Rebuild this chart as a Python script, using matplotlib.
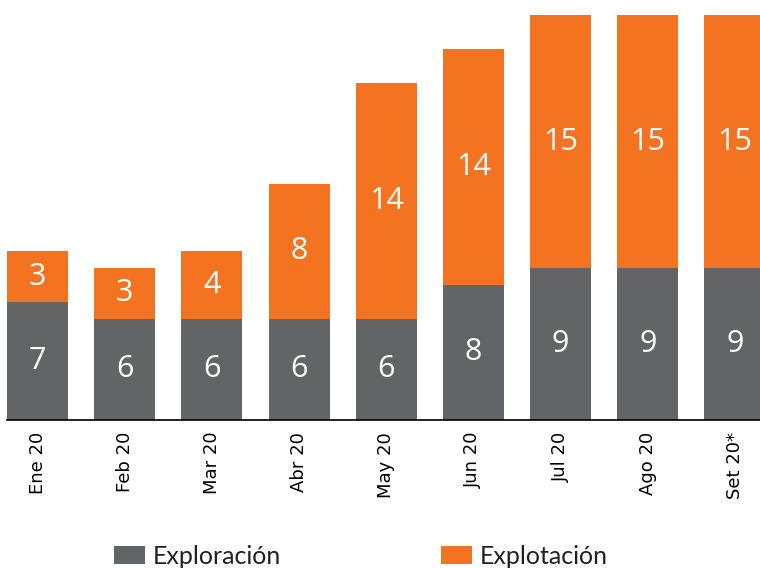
import matplotlib
matplotlib.use('Agg')
import matplotlib.pyplot as plt
import numpy as np

meses = ['Ene 20', 'Feb 20', 'Mar 20', 'Abr 20', 'May 20', 'Jun 20', 'Jul 20', 'Ago 20', 'Set 20*']
exploracion = [7, 6, 6, 6, 6, 8, 9, 9, 9]
explotacion = [3, 3, 4, 8, 14, 14, 15, 15, 15]

gris = '#636466'
naranja = '#F37321'

fig = plt.figure(figsize=(7.6, 5.68), dpi=100)
ax = fig.add_axes([7 / 760, 1 - 420 / 568, 758.5 / 760, 405 / 568])

x = np.arange(len(meses))
ancho = 0.7
b1 = ax.bar(x, exploracion, ancho, color=gris, label='Exploración')
b2 = ax.bar(x, explotacion, ancho, bottom=exploracion, color=naranja, label='Explotación')

for i in range(len(meses)):
    ax.text(x[i], exploracion[i] / 2, str(exploracion[i]), ha='center', va='center',
            color='white', fontsize=22, family='Open Sans')
    ax.text(x[i], exploracion[i] + explotacion[i] / 2, str(explotacion[i]), ha='center',
            va='center', color='white', fontsize=22, family='Open Sans')

ax.set_xlim(-0.35, 8.35)
ax.set_ylim(0, 24)
ax.set_xticks(x)
ax.set_xticklabels(meses, rotation=90, fontsize=13, family='DejaVu Sans')
ax.tick_params(axis='x', length=0, pad=8.5)
ax.set_yticks([])
for s in ['top', 'right', 'left']:
    ax.spines[s].set_visible(False)
ax.spines['bottom'].set_color('black')
ax.spines['bottom'].set_linewidth(1.2)

leg = fig.legend(handles=[b1, b2], loc='center', bbox_to_anchor=(361 / 760, 1 - 556 / 568),
                 ncol=2, frameon=False, handlelength=1.25, handleheight=0.76, handletextpad=0.3,
                 columnspacing=6.4, prop={'family': 'Lato', 'size': 18})
for t in leg.get_texts():
    t.set_color('#231f20')

fig.savefig('out.png', dpi=100)
